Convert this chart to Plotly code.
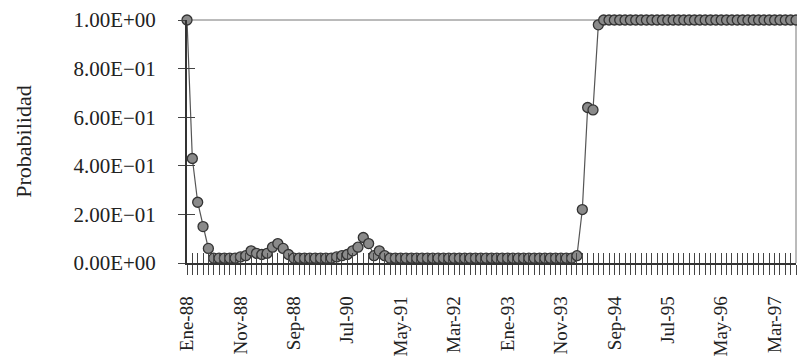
import plotly.graph_objects as go

# Meses de la serie (Ene-88 a Jul-97), uno por observación
abrev = ["Ene", "Feb", "Mar", "Abr", "May", "Jun", "Jul", "Ago", "Sep", "Oct", "Nov", "Dic"]
meses = [f"{abrev[m]}-{a % 100:02d}" for a in range(1988, 1998) for m in range(12)][:115]

# Probabilidad estimada por mes
probabilidad = [
    1.00, 0.43, 0.25, 0.15, 0.06,
    0.02, 0.02, 0.02, 0.02, 0.02, 0.025,
    0.03, 0.05, 0.04, 0.035, 0.04, 0.065, 0.08, 0.06, 0.035,
    0.02, 0.02, 0.02, 0.02, 0.02, 0.02, 0.02, 0.02, 0.025, 0.03,
    0.035, 0.05, 0.065, 0.105, 0.08, 0.03, 0.05, 0.03,
    0.02, 0.02, 0.02, 0.02, 0.02, 0.02, 0.02, 0.02, 0.02, 0.02,
    0.02, 0.02, 0.02, 0.02, 0.02, 0.02, 0.02, 0.02, 0.02, 0.02,
    0.02, 0.02, 0.02, 0.02, 0.02, 0.02, 0.02, 0.02, 0.02, 0.02,
    0.02, 0.02, 0.02, 0.02, 0.02, 0.03,
    0.22, 0.64, 0.63, 0.98,
    1.00, 1.00, 1.00, 1.00, 1.00, 1.00, 1.00, 1.00, 1.00, 1.00,
    1.00, 1.00, 1.00, 1.00, 1.00, 1.00, 1.00, 1.00, 1.00, 1.00,
    1.00, 1.00, 1.00, 1.00, 1.00, 1.00, 1.00, 1.00, 1.00, 1.00,
    1.00, 1.00, 1.00, 1.00, 1.00, 1.00, 1.00,
]

# Rótulos del eje X (cada 10 meses), tal como aparecen impresos
meses_rotulados = ["Ene-88", "Nov-88", "Sep-89", "Jul-90", "May-91", "Mar-92",
                   "Ene-93", "Nov-93", "Sep-94", "Jul-95", "May-96", "Mar-97"]
rotulos_x = ["Ene-88", "Nov-88", "Sep-88", "Jul-90", "May-91", "Mar-92",
             "Ene-93", "Nov-93", "Sep-94", "Jul-95", "May-96", "Mar-97"]

# Eje Y
valores_y = [0.0, 0.2, 0.4, 0.6, 0.8, 1.0]
rotulos_y = ["0.00E+00", "2.00E\u221201", "4.00E\u221201", "6.00E\u221201",
             "8.00E\u221201", "1.00E+00"]

FUENTE = "Liberation Serif"
TINTA = "#222222"

texto_x = [rotulos_x[meses_rotulados.index(m)] if m in meses_rotulados else "" for m in meses]

fig = go.Figure()
fig.add_trace(go.Scatter(
    x=meses, y=probabilidad, mode="lines+markers",
    line=dict(color="#555555", width=1.2),
    marker=dict(symbol="circle", size=10, color="#8a8a8a",
                line=dict(color="#333333", width=1.3)),
    cliponaxis=False, showlegend=False,
))
# traza vacía para los ejes superpuestos de marcas interiores
fig.add_trace(go.Scatter(x=[], y=[], xaxis="x2", yaxis="y2", showlegend=False))

n = len(meses)
fig.update_layout(
    width=797, height=360,
    margin=dict(l=187, r=1, t=20, b=97),
    paper_bgcolor="white", plot_bgcolor="white",
    font=dict(family=FUENTE, size=21, color=TINTA),
    xaxis=dict(
        type="category", range=[0, n - 1],
        tickmode="array", tickvals=meses, ticktext=texto_x,
        tickangle=-90, ticks="outside", ticklen=10, tickwidth=1, tickcolor="#444444",
        ticklabelstandoff=14, tickfont=dict(size=19),
        showline=True, linecolor="#333333", linewidth=1.5,
        showgrid=False, zeroline=False,
    ),
    yaxis=dict(
        range=[0, 1], tickmode="array", tickvals=valores_y, ticktext=rotulos_y,
        ticks="outside", ticklen=7, tickwidth=1, tickcolor="#444444",
        ticklabelstandoff=18,
        showline=True, linecolor="#333333", linewidth=2,
        showgrid=False, zeroline=False,
        title=dict(text="Probabilidad", standoff=36, font=dict(size=22)),
    ),
    xaxis2=dict(
        overlaying="x", range=[0, n - 1], tickmode="linear", tick0=0, dtick=1,
        ticks="inside", ticklen=10, tickwidth=1, tickcolor="#444444",
        showticklabels=False, showline=False, showgrid=False, zeroline=False,
    ),
    yaxis2=dict(
        overlaying="y", range=[0, 1], tickmode="array", tickvals=valores_y,
        ticks="inside", ticklen=8, tickwidth=1, tickcolor="#444444",
        showticklabels=False, showline=False, showgrid=False, zeroline=False,
    ),
    shapes=[
        # marco superior y derecho del área de trazado
        dict(type="line", xref="paper", yref="paper", x0=0, x1=1, y0=1, y1=1,
             line=dict(color="#777777", width=1), layer="below"),
        dict(type="line", xref="paper", yref="paper", x0=1, x1=1, y0=0, y1=1,
             line=dict(color="#777777", width=1), layer="below"),
    ],
)

fig.write_html("out.html")
